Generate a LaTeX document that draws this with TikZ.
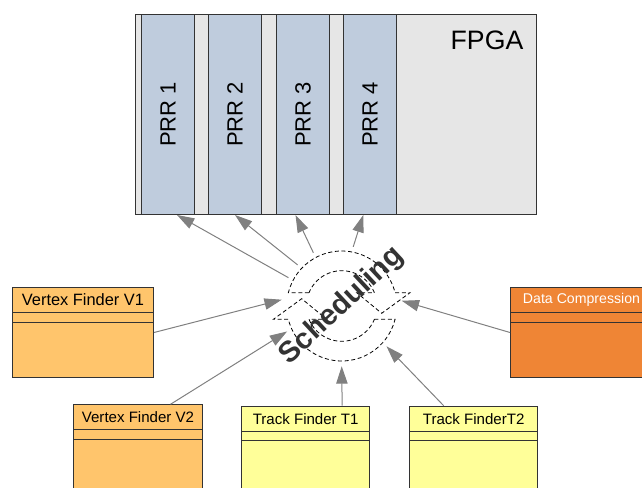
\documentclass[tikz,border=0pt]{standalone}
\usepackage{fontspec}
\setmainfont{Liberation Sans}
\usepackage{tikz}
\usetikzlibrary{arrows.meta,calc,positioning}

\definecolor{fpgagray}{HTML}{E6E6E6}
\definecolor{prrblue}{HTML}{BFCCDD}
\definecolor{vorange}{HTML}{FFC56C}
\definecolor{dcorange}{HTML}{EF8535}
\definecolor{tyellow}{HTML}{FFFF99}
\definecolor{feedgray}{HTML}{808080}
\definecolor{schedgray}{HTML}{333333}

\begin{document}
\begin{tikzpicture}[x=0.75pt,y=0.75pt,>={Triangle[length=13pt,width=8.5pt]},
  unit/.style={draw=black!80,line width=0.75pt,anchor=north west,inner sep=0pt},
  prr/.style={unit,fill=prrblue,minimum width=53*0.75pt,minimum height=200*0.75pt,
    font=\fontsize{16.5}{18}\selectfont},
  cls/.style={unit,minimum height=100*0.75pt},
  clstitle/.style={inner sep=0pt,font=\fontsize{11.3}{13}\selectfont},
  feed/.style={->,draw=feedgray,line width=0.75pt},
  ring/.style={draw=black,line width=0.6pt,dash pattern=on 3pt off 2pt}]
\useasboundingbox (0,0) rectangle (642,-488);
\clip (0,0) rectangle (642,-488);

% fpga with the reconfigurable regions
\node[unit,fill=fpgagray,minimum width=401*0.75pt,minimum height=200*0.75pt] (fpga) at (135,-14) {};
\node[font=\fontsize{20}{24}\selectfont] (fpgatext) at (487,-40) {FPGA};
\foreach \i/\x in {1/141,2/208,3/276,4/343}
  \node[prr] (prr\i) at (\x,-14) {\rotatebox{90}{PRR \i}};

% scheduling ring
\coordinate (sc) at (341.7,-306);
\node[circle,minimum size=120*0.75pt,inner sep=0pt] (sched) at (sc) {};
\draw[ring] ($(sc)+(158:35.3)$) -- ($(sc)+(166:55)$)
  arc[start angle=166,end angle=14,radius=55] -- (410,-292.7) -- (381.7,-313.3)
  -- (356.7,-292.7) -- ($(sc)+(22:35.3)$) arc[start angle=22,end angle=158,radius=35.3];
\draw[ring] ($(sc)+(-22:35.3)$) -- ($(sc)+(-14:55)$)
  arc[start angle=-14,end angle=-166,radius=55] -- (273.4,-319.3) -- (301.7,-298.7)
  -- (326.7,-319.3) -- ($(sc)+(202:35.3)$) arc[start angle=202,end angle=338,radius=35.3];
\node[rotate=43,text=schedgray,font=\bfseries\fontsize{22}{26}\selectfont] (schedtext) at (sc) {Scheduling};

% modules
\node[cls,fill=vorange,minimum width=141*0.75pt,minimum height=90*0.75pt] (v1) at (12,-287) {};
\node[cls,fill=dcorange,minimum width=142*0.75pt,minimum height=90*0.75pt] (dc) at (510,-287) {};
\node[cls,fill=vorange,minimum width=128.4*0.75pt] (v2) at (73.3,-404.3) {};
\node[cls,fill=tyellow,minimum width=128.3*0.75pt] (t1) at (241,-405.7) {};
\node[cls,fill=tyellow,minimum width=128.3*0.75pt] (t2) at (409,-405.7) {};
\foreach \b in {v1,dc,v2,t1,t2}
  \foreach \d in {25.5,35}
    \draw[black!80,line width=0.75pt] ($(\b.north west)+(0,-\d)$) -- ($(\b.north east)+(0,-\d)$);
\node[clstitle,font=\fontsize{12.3}{14}\selectfont] (v1title) at ($(v1.north)+(0,-12.7)$) {Vertex Finder V1};
\node[clstitle,text=white,font=\fontsize{10.6}{13}\selectfont] (dctitle) at ($(dc.north)+(0,-12.7)$) {Data Compression};
\node[clstitle] (v2title) at ($(v2.north)+(0,-12.8)$) {Vertex Finder V2};
\node[clstitle] (t1title) at ($(t1.north)+(0,-13)$) {Track Finder T1};
\node[clstitle] (t2title) at ($(t2.north)+(0,-13)$) {Track FinderT2};

% connectors
\draw[feed] (sched.152) -- ($(prr1.south)+(9,0)$);
\draw[feed] (sched.137.7) -- (prr2.south);
\draw[feed] (sched.118) -- ($(prr3.south)+(-7.5,0)$);
\draw[feed] (sched.79) -- ($(prr4.south)+(-6.7,0)$);
\draw[feed] (v1.east) -- (sched.174);
\draw[feed] ($(v2.north)+(32.5,0)$) -- (sched.205);
\draw[feed] ($(t1.north)+(36.5,0)$) -- (sched.270);
\draw[feed] ($(t2.north)+(-30,0)$) -- (sched.318);
\draw[feed] (dc.west) -- (sched.5);
\end{tikzpicture}
\end{document}
